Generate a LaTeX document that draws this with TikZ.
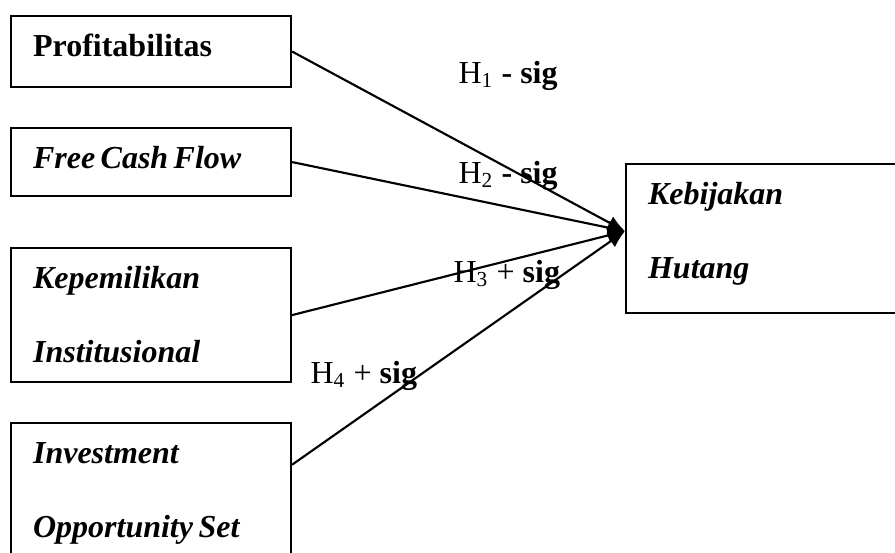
\documentclass[tikz,border=0pt]{standalone}
\usepackage{fontspec}
\setmainfont{Liberation Serif}
\usetikzlibrary{arrows.meta}

\begin{document}
\begin{tikzpicture}[x=0.375pt, y=-0.375pt,
  var/.style={draw, line width=0.8pt, rectangle, anchor=north west,
    inner ysep=0pt, inner xsep=8.25pt, text width=88.5pt, align=left,
    text height=15pt, font=\fontsize{12}{28}\selectfont\bfseries\itshape},
  hyp/.style={anchor=base west, inner sep=0pt, font=\fontsize{12}{14}\selectfont}]
  \useasboundingbox (0,0) rectangle (895,552);
  \clip (0,0) rectangle (895,552);
  % variabel independen
  \node[var, text depth=11.6pt, font=\fontsize{12}{28}\selectfont\bfseries] (prof) at (10,15) {Profitabilitas};
  \node[var, text depth=10.5pt] (fcf) at (10,127) {\spaceskip=0.17em\relax Free Cash Flow};
  \node[var, text depth=35.25pt] (inst) at (10,247) {Kepemilikan\\Institusional};
  \node[var, text depth=37.5pt] (ios) at (10,422) {\spaceskip=0.17em\relax Investment\\Opportunity Set};
  % variabel dependen
  \node[var, text depth=40.9pt] (debt) at (625,163) {Kebijakan\\Hutang};
  \coordinate (tip) at ([yshift=2.8pt]debt.west);
  \path[-{Latex[length=6.5pt,width=5.5pt]}, line width=0.8pt]
  (prof.east) edge (tip)
  (fcf.east) edge (tip)
  (inst.east) edge (tip)
  ([yshift=-16pt]ios.north east) edge (tip)
  ;
  \node[hyp] (h1) at (458,83) {H\textsubscript{1} \textbf{- sig}};
  \node[hyp] (h2) at (458,183) {H\textsubscript{2} \textbf{- sig}};
  \node[hyp] (h3) at (453,282) {H\textsubscript{3} + \textbf{sig}};
  \node[hyp] (h4) at (310,383) {H\textsubscript{4} + \textbf{sig}};
\end{tikzpicture}
\end{document}
